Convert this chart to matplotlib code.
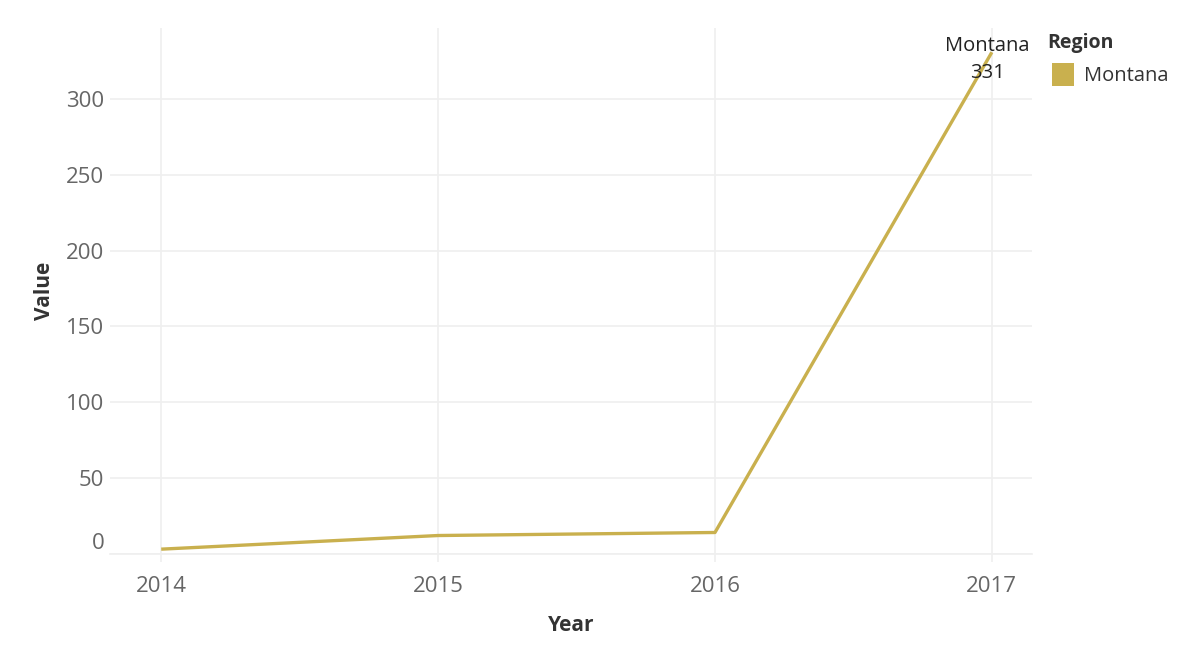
import matplotlib.pyplot as plt
from matplotlib.patches import Rectangle

# Data
years = [2014, 2015, 2016, 2017]
values = [3, 12, 14, 331]
region = "Montana"
y_ticks = [0, 50, 100, 150, 200, 250, 300]

line_color = '#c9b04e'
grid_color = '#efefef'
tick_color = '#666666'
title_color = '#333333'

plt.rcParams['font.family'] = ['Open Sans', 'DejaVu Sans']

fig = plt.figure(figsize=(12, 6.58), dpi=100)
ax = fig.add_axes([110 / 1200, 104.3 / 658, (1032 - 110) / 1200, (630 - 104.3) / 658])

ax.plot(years, values, color=line_color, linewidth=2.4, solid_capstyle='butt', zorder=3)

# Label at the last point (sits over the line end, like the reference)
ax.annotate(f"{region}\n{values[-1]}", xy=(years[-1], values[-1]), xytext=(-3, -5),
            textcoords='offset points', ha='center', va='center', fontsize=14.5,
            color='#222222', linespacing=1.45, zorder=4)

ax.set_xlim(2013.815, 2017.145)
ax.set_ylim(0, 347)
ax.set_xticks(years)
ax.set_xticklabels([str(y) for y in years])
ax.set_yticks(y_ticks)

ax.grid(True, color=grid_color, linewidth=1.2)
ax.set_axisbelow(True)
for side in ['top', 'right', 'left']:
    ax.spines[side].set_visible(False)
ax.spines['bottom'].set_color(grid_color)
ax.spines['bottom'].set_linewidth(1.2)

ax.tick_params(axis='x', length=6, color=grid_color, width=1.2, pad=10,
               labelsize=16, labelcolor=tick_color)
ax.tick_params(axis='y', length=0, pad=4, labelsize=16, labelcolor=tick_color)
# keep the bottom label inside the plot, like the reference
ax.get_yticklabels()[0].set_va('bottom')

ax.set_xlabel("Year", fontsize=15, fontweight='bold', color=title_color, labelpad=13)
ax.set_ylabel("Value", fontsize=15, fontweight='bold', color=title_color, labelpad=8)

# Legend drawn by hand to match layout
fig.text(1047 / 1200, 1 - 43 / 658, "Region", fontsize=14, fontweight='bold',
         color=title_color, ha='left', va='center')
fig.patches.append(Rectangle((1052 / 1200, 1 - 86 / 658), 22 / 1200, 23 / 658,
                             transform=fig.transFigure, facecolor=line_color,
                             edgecolor='none'))
fig.text(1084 / 1200, 1 - 76 / 658, region, fontsize=14.5, color=title_color,
         ha='left', va='center')

fig.savefig('out.png', dpi=100)
